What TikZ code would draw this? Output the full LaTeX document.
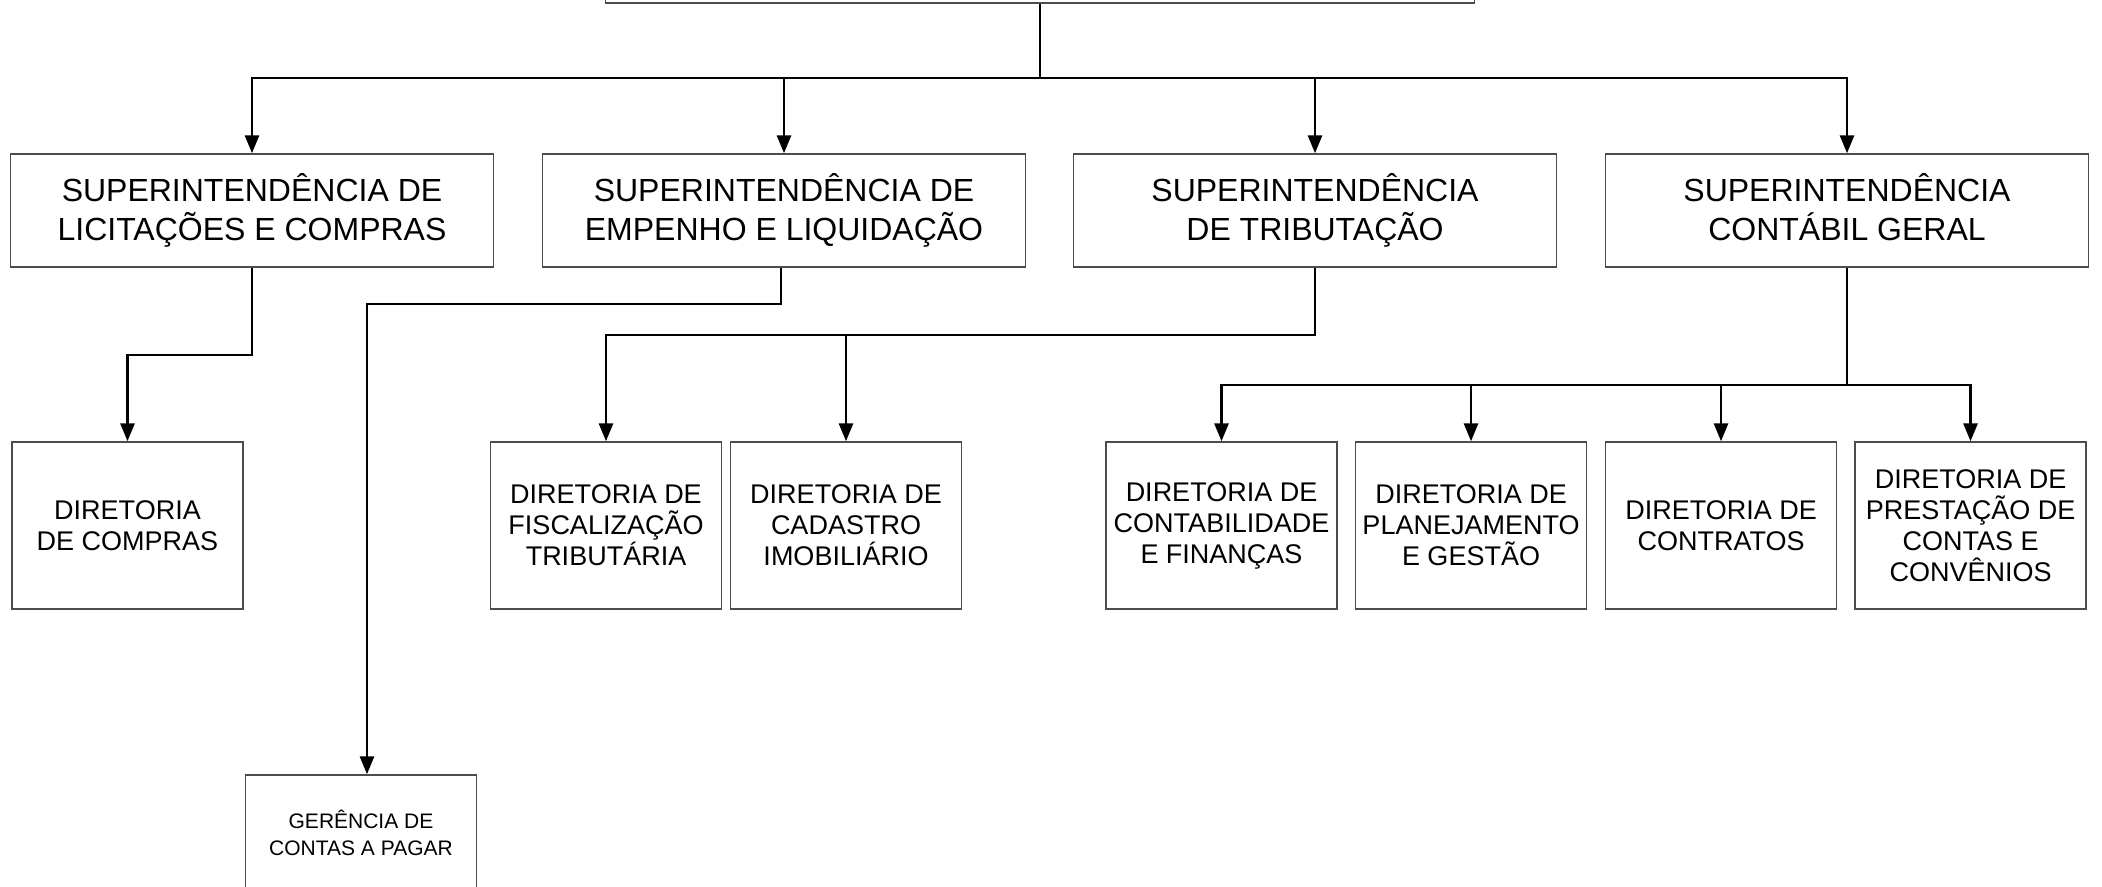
\documentclass[tikz,border=0pt]{standalone}
\usepackage{fontspec}
\setmainfont{Liberation Sans}
\usetikzlibrary{arrows.meta}

\begin{document}
\begin{tikzpicture}[x=0.5pt,y=-0.5pt]
        \tikzstyle{caixa}=[draw=black!70, line width=0.7pt, inner sep=0pt, align=center]
        \tikzstyle{superint}=[caixa, minimum width=241.5pt, minimum height=56.5pt, font=\fontsize{16pt}{19.5pt}\selectfont]
        \tikzstyle{diretoria}=[caixa, minimum width=115.5pt, minimum height=83.5pt, font=\fontsize{13.5pt}{15.5pt}\selectfont]
        \tikzstyle{gerencia}=[caixa, minimum width=115.5pt, minimum height=57.5pt, font=\fontsize{10.5pt}{13.5pt}\selectfont]
        \tikzstyle{seta}=[line width=1.45pt, -{Triangle[length=9pt, width=7pt]}]
        \tikzstyle{linha}=[line width=1.45pt]

        \useasboundingbox (0,0) rectangle (2102,887);
        \clip (0,0) rectangle (2102,887);

        \coordinate (T) at (1040,-53.5);
        \coordinate (S1) at (252,210.5);
        \coordinate (S2) at (784,210.5);
        \coordinate (S3) at (1315,210.5);
        \coordinate (S4) at (1847,210.5);

        \coordinate (D1) at (127.5,525.5);
        \coordinate (D2) at (606,525.5);
        \coordinate (D3) at (846,525.5);
        \coordinate (D4) at (1221.5,525.5);
        \coordinate (D5) at (1471,525.5);
        \coordinate (D6) at (1721,525.5);
        \coordinate (D7) at (1970.5,525.5);
        \coordinate (G1) at (361,832.5);

        % pontos de dobra
        \coordinate (barra) at (1040,78);
        \coordinate (b1) at (252,355);
        \coordinate (b2) at (781,304);
        \coordinate (b3) at (1315,335);
        \coordinate (b4) at (1847,385);

        \node (topo) at (T)[superint, minimum width=434.5pt]{};

        \node (sup1) at (S1)[superint]{SUPERINTENDÊNCIA DE\\LICITAÇÕES E COMPRAS};
        \node (sup2) at (S2)[superint]{SUPERINTENDÊNCIA DE\\EMPENHO E LIQUIDAÇÃO};
        \node (sup3) at (S3)[superint]{SUPERINTENDÊNCIA\\DE TRIBUTAÇÃO};
        \node (sup4) at (S4)[superint]{SUPERINTENDÊNCIA\\CONTÁBIL GERAL\vspace{3pt}};

        \node (compras) at (D1)[diretoria]{DIRETORIA\\DE COMPRAS};
        \node (fisc) at (D2)[diretoria]{DIRETORIA DE\\FISCALIZAÇÃO\\TRIBUTÁRIA};
        \node (cad) at (D3)[diretoria]{DIRETORIA DE\\CADASTRO\\IMOBILIÁRIO};
        \node (contab) at (D4)[diretoria]{DIRETORIA DE\\CONTABILIDADE\\E FINANÇAS};
        \node (plan) at (D5)[diretoria]{DIRETORIA DE\\PLANEJAMENTO\\E GESTÃO};
        \node (contr) at (D6)[diretoria]{DIRETORIA DE\\CONTRATOS};
        \node (prest) at (D7)[diretoria]{DIRETORIA DE\\PRESTAÇÃO DE\\CONTAS E\\CONVÊNIOS};

        \node (ger) at (G1)[gerencia]{GERÊNCIA DE\\CONTAS A PAGAR};

        \draw[linha] (topo.south) -- (barra);
        \draw[seta] (barra) -| (sup1.north);
        \draw[seta] (barra) -| (sup2.north);
        \draw[seta] (barra) -| (sup3.north);
        \draw[seta] (barra) -| (sup4.north);

        \draw[seta] (sup1.south) -- (b1) -| (compras.north);
        \draw[seta] (sup2.south -| b2) -- (b2) -| ([xshift=3pt]ger.north);
        \draw[seta] (sup3.south) -- (b3) -| (fisc.north);
        \draw[seta] (b3) -| (cad.north);
        \draw[seta] (sup4.south) -- (b4) -| (contab.north);
        \draw[seta] (b4) -| (plan.north);
        \draw[seta] (b4) -| (contr.north);
        \draw[seta] (b4) -| (prest.north);
      \end{tikzpicture}
\end{document}
